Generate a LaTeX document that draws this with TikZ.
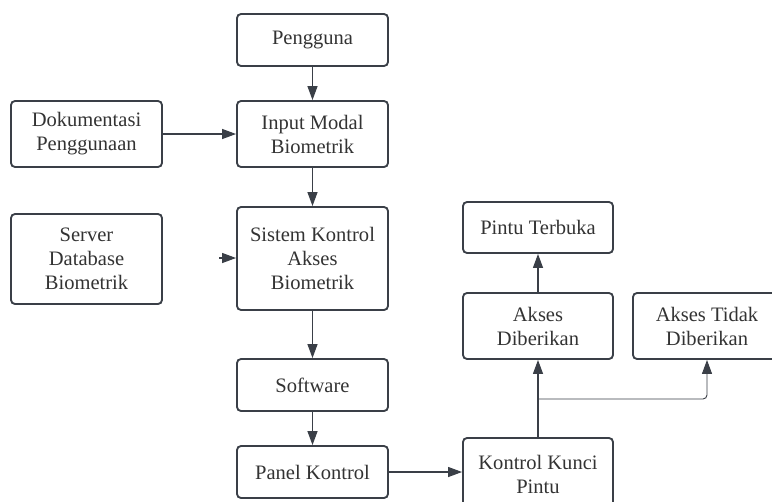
\documentclass[tikz,border=0pt]{standalone}
\usepackage{fontspec}
\setmainfont{Liberation Serif}
\usetikzlibrary{arrows.meta}
\definecolor{boxline}{HTML}{3A3F47}
\definecolor{txt}{HTML}{333333}
\begin{document}
\begin{tikzpicture}[x=0.75pt,y=-0.75pt,
  box/.style={draw=boxline,line width=1.4pt,rounded corners=3pt,fill=white,
    text=txt,align=center,inner sep=0pt,
    font=\fontsize{15.4pt}{18pt}\selectfont},
  conn/.style={draw=boxline,line width=0.9pt,-{Triangle[length=10.5pt,width=7.5pt]}}]
\useasboundingbox (0,0) rectangle (772,501);
\clip (0,0) rectangle (772,501);
\node[box,minimum width=151*0.75pt,minimum height=52*0.75pt] (peng) at (312.5,40) {Pengguna};
\node[box,minimum width=151*0.75pt,minimum height=66*0.75pt] (input) at (312.5,134) {Input Modal\\Biometrik};
\node[box,minimum width=151*0.75pt,minimum height=66*0.75pt] (dok) at (86.5,134) {Dokumentasi\\Penggunaan};
\node[box,minimum width=151*0.75pt,minimum height=90*0.75pt] (server) at (86.5,259) {Server\\Database\\Biometrik};
\node[box,minimum width=151*0.75pt,minimum height=103*0.75pt] (sistem) at (312.5,258.5) {Sistem Kontrol\\Akses\\Biometrik};
\node[box,minimum width=151*0.75pt,minimum height=52*0.75pt] (soft) at (312.5,385) {Software};
\node[box,minimum width=151*0.75pt,minimum height=52*0.75pt] (panel) at (312.5,472) {Panel Kontrol};
\node[box,minimum width=150*0.75pt,minimum height=72*0.75pt] (kunci) at (538,474) {Kontrol Kunci\\Pintu};
\node[box,minimum width=150*0.75pt,minimum height=51*0.75pt] (pintu) at (538,227.5) {Pintu Terbuka};
\node[box,minimum width=150*0.75pt,minimum height=66*0.75pt] (akses) at (538,326) {Akses\\Diberikan};
\node[box,minimum width=148*0.75pt,minimum height=66*0.75pt] (tidak) at (707,326) {Akses Tidak\\Diberikan};
\coordinate (srvin) at (219,258);
\coordinate (branch) at (538,399);
\draw[conn] (peng.south) -- (input.north);
\draw[conn] (dok.east) -- (input.west);
\draw[conn] (srvin) -- (sistem.west |- srvin);
\draw[conn] (input.south) -- (sistem.north);
\draw[conn] (sistem.south) -- (soft.north);
\draw[conn] (soft.south) -- (panel.north);
\draw[conn] (panel.east) -- (panel.east -| kunci.west);
\draw[conn] (kunci.north) -- (akses.south);
\draw[conn] (akses.north) -- (pintu.south);
\draw[conn,line width=0.7pt,rounded corners=3pt] (branch) -- (branch -| tidak.south) -- (tidak.south);
\end{tikzpicture}
\end{document}
